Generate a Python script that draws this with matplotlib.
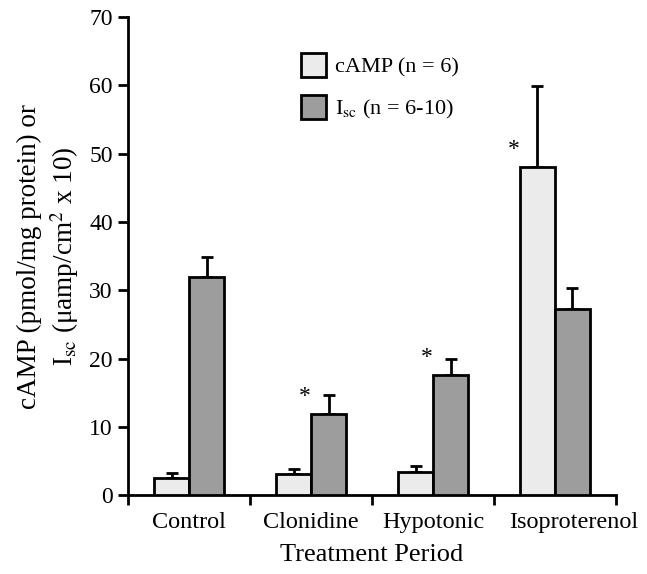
import numpy as np
import matplotlib.pyplot as plt
import matplotlib.transforms as mtransforms

plt.rcParams['font.family'] = ['Liberation Serif', 'DejaVu Serif']
plt.rcParams['mathtext.fontset'] = 'stix'

periods = ["Control", "Clonidine", "Hypotonic", "Isoproterenol"]
camp = [2.5, 3.1, 3.3, 48.1]
camp_err = [0.7, 0.7, 1.0, 11.8]
isc = [31.9, 11.9, 17.6, 27.2]
isc_err = [2.9, 2.8, 2.4, 3.1]
camp_star = [False, False, False, True]
isc_star = [False, True, True, False]

fig = plt.figure(figsize=(6.47, 5.74), dpi=100)
ax = fig.add_axes([0.198, 0.1376, 0.754, 0.8324])

x = np.arange(len(periods))
w = 0.287
kw = dict(edgecolor="black", linewidth=2, zorder=3)
ax.bar(x - w / 2, camp, w, color="#ebebeb", label="cAMP (n = 6)", **kw)
ax.bar(x + w / 2, isc, w, color="#9d9d9d", label="I$_{\\rm sc}$ (n = 6-10)", **kw)
ax.errorbar(x - w / 2, camp, yerr=[np.zeros(4), camp_err], fmt="none",
            ecolor="black", elinewidth=2, capsize=4, capthick=2, zorder=2)
ax.errorbar(x + w / 2, isc, yerr=[np.zeros(4), isc_err], fmt="none",
            ecolor="black", elinewidth=2, capsize=4, capthick=2, zorder=2)

for i in range(len(periods)):
    if camp_star[i]:
        ax.text(x[i] - w - 0.05, camp[i] + 1.0, "*", fontsize=17, ha="center", va="bottom")
    if isc_star[i]:
        ax.text(x[i] - 0.05, isc[i] + 1.0, "*", fontsize=17, ha="center", va="bottom")

ax.set_xlim(-0.5, 3.5)
ax.set_ylim(0, 70)
ax.set_yticks(range(0, 71, 10))
ax.set_xticks(x)
ax.set_xticklabels(periods, fontsize=17.5)
ax.set_xticks(np.arange(-0.5, 4.0, 1.0), minor=True)
ax.tick_params(axis="x", which="major", length=0, pad=12)
ax.tick_params(axis="x", which="minor", length=7, width=2, direction="out")
ax.tick_params(axis="y", length=7, width=2, direction="out", labelsize=17, pad=4)
for s in ["top", "right"]:
    ax.spines[s].set_visible(False)
for s in ["left", "bottom"]:
    ax.spines[s].set_linewidth(2)

# last label sits a bit right of its group in the original
lab = ax.get_xticklabels()[-1]
lab.set_transform(lab.get_transform() + mtransforms.ScaledTranslation(0.19, 0, fig.dpi_scale_trans))

ax.set_xlabel("Treatment Period", fontsize=19, labelpad=8)
ax.set_ylabel("cAMP (pmol/mg protein) or\nI$_{\\rm sc}$ (μamp/cm$^2$ x 10)", fontsize=19.5,
              linespacing=1.25, labelpad=6)

ax.legend(loc="upper left", bbox_to_anchor=(0.314, 0.966), frameon=False, fontsize=16,
          handlelength=1.1, handleheight=1.25, handletextpad=0.4, labelspacing=0.8)

fig.savefig("out.png", dpi=100)
